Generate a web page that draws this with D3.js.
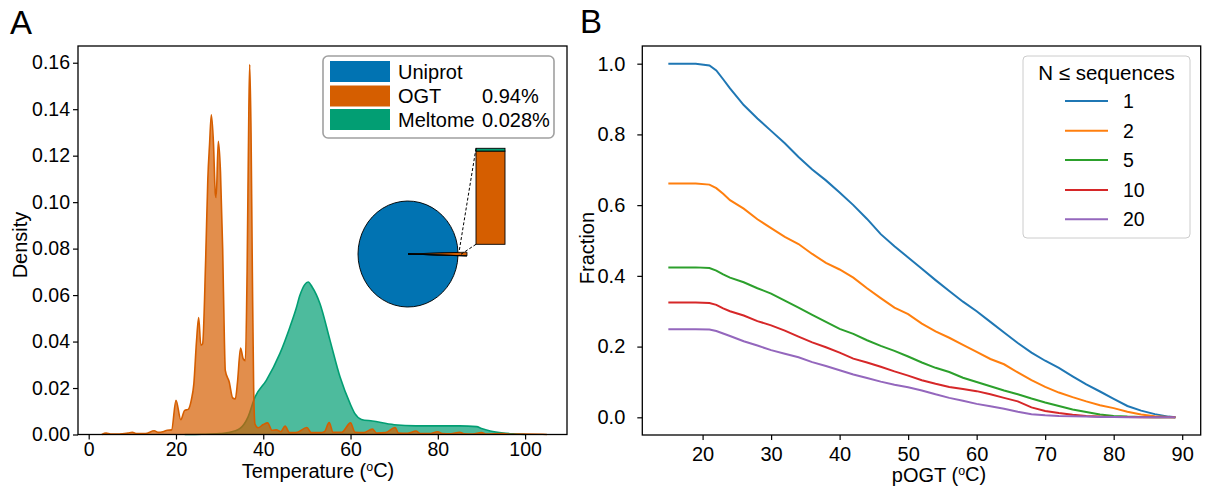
<!DOCTYPE html>
<html>
<head>
<meta charset="utf-8">
<script src="https://cdn.jsdelivr.net/npm/d3@7"></script>
<style>
  body { margin: 0; background: #fff; }
  svg { display: block; }
  text { font-family: "Liberation Sans", Arial, sans-serif; fill: #000; }
</style>
</head>
<body>
<svg id="chart" width="1206" height="490"></svg>
<script>
const font = '"Liberation Sans", Arial, sans-serif'
const legendFont = '"DejaVu Sans", sans-serif'

// ---- panel A data (density curves) ----
const ogtTemp = [3, 4, 5, 7, 9, 10, 11, 13, 15, 16, 17, 18, 19, 20, 21.1, 22, 22.8, 23.5, 24.1, 24.7, 25.2, 25.7, 26.1, 26.8, 27.3, 27.7, 28.1, 28.6, 29.0, 29.2, 29.7, 30.2, 30.7, 31.1, 31.3, 32.2, 33, 33.6, 34.1, 34.8, 35.4, 35.9, 36.3, 36.7, 36.9, 37.2, 37.5, 37.8, 38.1, 38.8, 40, 41, 42, 43, 44, 45, 46, 47.5, 50, 51, 53, 54, 55.1, 56, 58, 60, 61, 63, 65, 66, 68, 70.2, 71, 73, 75, 76, 78, 80, 81, 83, 85, 86, 88, 90, 91, 95, 97, 100, 104, 105]
const ogtDensity = [0, 0.0006, 0.0002, 0.0002, 0.0006, 0.0009, 0.0004, 0.0004, 0.0016, 0.0009, 0.0012, 0.0018, 0.002, 0.0147, 0.0064, 0.0104, 0.0108, 0.0147, 0.0219, 0.04, 0.0503, 0.0384, 0.039, 0.075, 0.11, 0.125, 0.1376, 0.125, 0.104, 0.102, 0.1262, 0.113, 0.08, 0.04, 0.0276, 0.0226, 0.0157, 0.0153, 0.0226, 0.0372, 0.0326, 0.0318, 0.07, 0.14, 0.1592, 0.13, 0.07, 0.02, 0.0045, 0.0029, 0.0043, 0.005, 0.0018, 0.002, 0.0012, 0.0036, 0.0008, 0.0008, 0.003, 0.0008, 0.0008, 0.0012, 0.0051, 0.001, 0.001, 0.005, 0.001, 0.0008, 0.0023, 0.0006, 0.0008, 0.003, 0.0006, 0.0005, 0.0015, 0.0004, 0.0004, 0.0012, 0.0004, 0.0003, 0.001, 0.0003, 0.0002, 0.0008, 0.0002, 0.0004, 0.0001, 0.0002, 0.0001, 0]

const meltTemp = [22, 26, 30, 32, 34.6, 36.5, 38.1, 40.7, 43.8, 46.1, 47.5, 48.4, 49.5, 50.3, 51.2, 53, 55.3, 57.6, 59.9, 61, 62.5, 65, 70, 75, 80, 85, 88.9, 90, 92, 95, 98, 100]
const meltDensity = [0, 0.0001, 0.0004, 0.0008, 0.0025, 0.0075, 0.0161, 0.0233, 0.0348, 0.0462, 0.054, 0.0599, 0.0645, 0.0656, 0.0635, 0.0563, 0.0405, 0.0247, 0.0133, 0.009, 0.0065, 0.0058, 0.0042, 0.0037, 0.0037, 0.0037, 0.0034, 0.0026, 0.0015, 0.0006, 0.0002, 0]

const aXTicks = [0, 20, 40, 60, 80, 100]
const aYTicks = [0, 0.02, 0.04, 0.06, 0.08, 0.10, 0.12, 0.14, 0.16]

// pie shares (%)
const ogtShare = 0.94
const meltShare = 0.028
const uniShare = 100 - ogtShare - meltShare
const legendLabelsA = ['Uniprot', 'OGT', 'Meltome']
const legendPctA = ['', '0.94%', '0.028%']
const colorsA = ['#0173b2', '#d55e00', '#029e73']

// ---- panel B data ----
const pogt = [15, 17, 19, 21, 22, 23, 24, 26, 28, 30, 32, 34, 36, 38, 40, 42, 44, 46, 48, 50, 52, 54, 56, 58, 60, 62, 64, 66, 68, 70, 72, 74, 76, 78, 80, 82, 84, 86, 88, 89]
const fracN1 = [1.0, 1.0, 1.0, 0.995, 0.981, 0.956, 0.93, 0.883, 0.845, 0.81, 0.775, 0.736, 0.701, 0.67, 0.636, 0.6, 0.561, 0.518, 0.484, 0.452, 0.42, 0.388, 0.357, 0.327, 0.3, 0.27, 0.24, 0.21, 0.183, 0.16, 0.14, 0.116, 0.093, 0.073, 0.052, 0.032, 0.019, 0.009, 0.002, 0.0]
const fracN2 = [0.661, 0.661, 0.661, 0.658, 0.648, 0.632, 0.614, 0.59, 0.56, 0.535, 0.51, 0.49, 0.462, 0.437, 0.418, 0.395, 0.365, 0.337, 0.31, 0.292, 0.265, 0.243, 0.225, 0.205, 0.185, 0.165, 0.15, 0.127, 0.105, 0.086, 0.07, 0.057, 0.045, 0.034, 0.026, 0.016, 0.008, 0.003, 0.001, 0]
const fracN5 = [0.424, 0.424, 0.424, 0.422, 0.415, 0.404, 0.395, 0.382, 0.365, 0.35, 0.33, 0.31, 0.29, 0.27, 0.25, 0.236, 0.218, 0.202, 0.188, 0.172, 0.155, 0.14, 0.128, 0.112, 0.1, 0.088, 0.076, 0.065, 0.053, 0.042, 0.032, 0.022, 0.015, 0.008, 0.004, 0.002, 0.001, 0, 0, 0]
const fracN10 = [0.325, 0.325, 0.325, 0.323, 0.318, 0.308, 0.3, 0.288, 0.272, 0.26, 0.245, 0.228, 0.212, 0.198, 0.183, 0.166, 0.155, 0.143, 0.13, 0.118, 0.105, 0.095, 0.086, 0.08, 0.074, 0.065, 0.055, 0.045, 0.028, 0.018, 0.012, 0.007, 0.004, 0.002, 0.001, 0.001, 0, 0, 0, 0]
const fracN20 = [0.249, 0.249, 0.249, 0.248, 0.244, 0.237, 0.23, 0.215, 0.203, 0.19, 0.18, 0.17, 0.156, 0.145, 0.133, 0.121, 0.111, 0.101, 0.092, 0.085, 0.076, 0.065, 0.055, 0.047, 0.038, 0.031, 0.024, 0.016, 0.009, 0.006, 0.004, 0.003, 0.002, 0.001, 0.001, 0, 0, 0, 0, 0]
const seqLabels = ['1', '2', '5', '10', '20']
const colorsB = ['#1f77b4', '#ff7f0e', '#2ca02c', '#d62728', '#9467bd']
const bXTicks = [20, 30, 40, 50, 60, 70, 80, 90]
const bYTicks = [0, 0.2, 0.4, 0.6, 0.8, 1.0]

const svg = d3.select('#chart')

function styleAxis(g, size) {
  g.select('.domain').remove()
  g.selectAll('line').attr('stroke', '#000').attr('stroke-width', 1.2)
  g.selectAll('text').attr('font-size', size).attr('font-family', font).attr('fill', '#000')
  g.attr('font-family', font)
}

function degLabel(sel, before) {
  sel.append('tspan').text(before)
  sel.append('tspan').attr('font-size', '0.62em').attr('dy', '-0.55em').text('o')
  sel.append('tspan').attr('dy', '0.34em').text('C)')
}

// ================= panel A =================
const ax = d3.scaleLinear().domain([-2.45, 109.6]).range([78, 567])
const ay = d3.scaleLinear().domain([0, 0.1672]).range([434.5, 46])

const zip = (xs, ys) => xs.map((x, i) => [x, ys[i]])
const meltData = zip(meltTemp, meltDensity)
const ogtData = zip(ogtTemp, ogtDensity)

const area = d3.area().x(d => ax(d[0])).y0(ay(0)).y1(d => ay(d[1])).curve(d3.curveMonotoneX)
const line = d3.line().x(d => ax(d[0])).y(d => ay(d[1])).curve(d3.curveMonotoneX)

const panelA = svg.append('g')

;[[meltData, colorsA[2]], [ogtData, colorsA[1]]].forEach(([data, c]) => {
  panelA.append('path').attr('d', area(data)).attr('fill', c).attr('fill-opacity', 0.7)
  panelA.append('path').attr('d', line(data)).attr('fill', 'none').attr('stroke', c).attr('stroke-width', 1.6)
})

panelA.append('g').attr('transform', 'translate(0,434.5)')
  .call(d3.axisBottom(ax).tickValues(aXTicks).tickSize(5).tickPadding(3).tickFormat(d3.format('d')))
  .call(g => styleAxis(g, 19.5))
panelA.append('g').attr('transform', 'translate(78,0)')
  .call(d3.axisLeft(ay).tickValues(aYTicks).tickSize(5).tickPadding(3).tickFormat(d3.format('.2f')))
  .call(g => styleAxis(g, 19.5))

panelA.append('rect').attr('x', 78).attr('y', 46).attr('width', 489).attr('height', 388.5)
  .attr('fill', 'none').attr('stroke', '#000').attr('stroke-width', 1.3)

// pie inset
const pcx = 408, pcy = 254, pSy = 1.06
const ogtAngle = 2 * Math.PI * ogtShare / 100
const pieStart = Math.PI / 2 - ogtAngle / 2
const pie = d3.pie().sort(null).startAngle(pieStart).endAngle(pieStart + 2 * Math.PI)
const slices = pie([ogtShare, meltShare, uniShare])
const pieG = panelA.append('g').attr('transform', `translate(${pcx},${pcy}) scale(1,${pSy})`)
pieG.append('path').attr('d', d3.arc().innerRadius(0).outerRadius(50)(slices[2]))
  .attr('fill', colorsA[0]).attr('stroke', '#000').attr('stroke-width', 0.9)
;[0, 1].forEach(i => {
  pieG.append('path').attr('d', d3.arc().innerRadius(0).outerRadius(59)(slices[i]))
    .attr('fill', colorsA[i + 1]).attr('stroke', '#000').attr('stroke-width', 0.8)
})

// stacked bar zoom
const barX = 476, barW = 29
const by = d3.scaleLinear().domain([0, ogtShare + meltShare]).range([244.3, 148.3])
panelA.append('rect').attr('x', barX).attr('y', by(ogtShare)).attr('width', barW)
  .attr('height', by(0) - by(ogtShare)).attr('fill', colorsA[1]).attr('stroke', '#000').attr('stroke-width', 0.9)
panelA.append('rect').attr('x', barX).attr('y', by(ogtShare + meltShare)).attr('width', barW)
  .attr('height', by(ogtShare) - by(ogtShare + meltShare)).attr('fill', colorsA[2]).attr('stroke', '#000').attr('stroke-width', 0.9)

const edgePt = a => [pcx + 51 * Math.sin(a), pcy - 51 * Math.cos(a) * pSy]
const pTop = edgePt(slices[0].startAngle), pBot = edgePt(slices[0].endAngle)
panelA.append('line').attr('x1', barX).attr('y1', by(ogtShare + meltShare)).attr('x2', pTop[0]).attr('y2', pTop[1])
  .attr('stroke', '#000').attr('stroke-width', 1).attr('stroke-dasharray', '3,2')
panelA.append('line').attr('x1', barX).attr('y1', by(0)).attr('x2', pBot[0]).attr('y2', pBot[1])
  .attr('stroke', '#000').attr('stroke-width', 1).attr('stroke-dasharray', '3,2')

// legend A
panelA.append('rect').attr('x', 323).attr('y', 56).attr('width', 231).attr('height', 82).attr('rx', 5)
  .attr('fill', '#fff').attr('stroke', '#a0a0a0').attr('stroke-width', 1.6)
const rowsA = [71.5, 96, 119.5]
legendLabelsA.forEach((lab, i) => {
  panelA.append('rect').attr('x', 330).attr('y', rowsA[i] - 10.5).attr('width', 60).attr('height', 21).attr('fill', colorsA[i])
  panelA.append('text').attr('x', 398).attr('y', rowsA[i] + 7).attr('font-size', 20).text(lab)
  if (legendPctA[i]) panelA.append('text').attr('x', 482).attr('y', rowsA[i] + 7).attr('font-size', 20).text(legendPctA[i])
})

panelA.append('text').attr('x', 10).attr('y', 34).attr('font-size', 33).text('A')
panelA.append('text').attr('x', 318).attr('y', 477.5).attr('font-size', 20).attr('text-anchor', 'middle')
  .call(t => degLabel(t, 'Temperature ('))
panelA.append('text').attr('transform', 'translate(27,245) rotate(-90)').attr('font-size', 20)
  .attr('text-anchor', 'middle').text('Density')

// ================= panel B =================
const bx = d3.scaleLinear().domain([11.2, 92.7]).range([642.3, 1200.7])
const byS = d3.scaleLinear().domain([-0.05, 1.05]).range([435, 46])
const panelB = svg.append('g')

const seriesB = [fracN1, fracN2, fracN5, fracN10, fracN20]
const lineB = d3.line().x(d => bx(d[0])).y(d => byS(d[1]))
seriesB.forEach((vals, i) => {
  panelB.append('path').attr('d', lineB(zip(pogt, vals)))
    .attr('fill', 'none').attr('stroke', colorsB[i]).attr('stroke-width', 2)
})

panelB.append('g').attr('transform', 'translate(0,435)')
  .call(d3.axisBottom(bx).tickValues(bXTicks).tickSize(5).tickPadding(7).tickFormat(d3.format('d')))
  .call(g => styleAxis(g, 20))
panelB.append('g').attr('transform', 'translate(642.3,0)')
  .call(d3.axisLeft(byS).tickValues(bYTicks).tickSize(5).tickPadding(12).tickFormat(d3.format('.1f')))
  .call(g => styleAxis(g, 20))

panelB.append('rect').attr('x', 642.3).attr('y', 46).attr('width', 558.4).attr('height', 389)
  .attr('fill', 'none').attr('stroke', '#000').attr('stroke-width', 1.3)

// legend B
panelB.append('rect').attr('x', 1023).attr('y', 56).attr('width', 167).attr('height', 182).attr('rx', 4)
  .attr('fill', '#fff').attr('fill-opacity', 0.8).attr('stroke', '#cccccc').attr('stroke-width', 1)
panelB.append('text').attr('x', 1106.5).attr('y', 80).attr('text-anchor', 'middle')
  .attr('font-size', 20.5).attr('font-family', legendFont).text('N ≤ sequences')
const rowsB = [101, 130.7, 160, 190, 219.3]
seqLabels.forEach((lab, i) => {
  panelB.append('line').attr('x1', 1065).attr('x2', 1108).attr('y1', rowsB[i]).attr('y2', rowsB[i])
    .attr('stroke', colorsB[i]).attr('stroke-width', 2)
  panelB.append('text').attr('x', 1123).attr('y', rowsB[i] + 7).attr('font-size', 19.5)
    .attr('font-family', legendFont).text(lab)
})

panelB.append('text').attr('x', 580).attr('y', 33).attr('font-size', 33).text('B')
panelB.append('text').attr('x', 939).attr('y', 481.5).attr('font-size', 20).attr('text-anchor', 'middle')
  .call(t => degLabel(t, 'pOGT ('))
panelB.append('text').attr('transform', 'translate(594,248) rotate(-90)').attr('font-size', 20)
  .attr('text-anchor', 'middle').text('Fraction')
</script>
</body>
</html>
